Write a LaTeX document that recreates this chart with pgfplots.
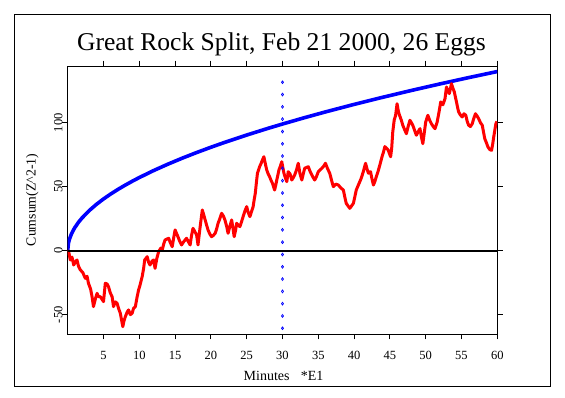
\documentclass[border=0pt]{standalone}
\usepackage{pgfplots}
\pgfplotsset{compat=1.18}
\usepackage{fontspec}
\setmainfont{Liberation Serif}
\begin{document}
\begin{tikzpicture}
\useasboundingbox (-67.7pt,-64pt) rectangle (497.3pt,334pt);
\begin{axis}[
  at={(0pt,0pt)}, anchor=south west,
  scale only axis, width=429.6pt, height=268pt,
  xmin=0, xmax=60, ymin=-65.1, ymax=144.3,
  xtick={5,10,...,60}, ytick={-50,0,50,100},
  xtick pos=both, ytick pos=both, xticklabel pos=lower, yticklabel pos=left,
  tick align=outside, major tick length=5.3pt,
  every tick/.style={black, line width=0.8pt},
  axis line style={line width=0.8pt},
  /pgf/number format/assume math mode=true,
  xticklabel style={font=\fontsize{12.5}{14}\selectfont, anchor=base, inner sep=0pt, yshift=-20pt},
  yticklabel style={font=\fontsize{12.5}{14}\selectfont, rotate=90, anchor=base, inner sep=0pt},
  title={Great Rock Split, Feb 21 2000, 26 Eggs},
  title style={at={(axis description cs:0.5,1)}, anchor=base, inner sep=0pt, yshift=9.8pt, xshift=-1pt, font=\fontsize{25.6}{30}\selectfont},
  xlabel={Minutes\hspace{0.8em}*E1},
  xlabel style={at={(axis description cs:0.5,0)}, anchor=base, inner sep=0pt, yshift=-47pt, xshift=1pt, font=\fontsize{14}{16}\selectfont},
  ylabel={Cumsum(Z\^{}2-1)},
  ylabel style={at={(axis description cs:0,0.5)}, anchor=base, inner sep=0pt, yshift=32pt, font=\fontsize{13.8}{16}\selectfont},
  clip=true,
]
% envelope
\addplot[blue, line width=3.6pt, line join=round] coordinates {
(0,0) (0.1,5.71) (0.25,9.04) (0.5,12.78) (0.75,15.65) (1,18.07) (1.5,22.13)
(2,25.55) (3,31.30) (4,36.14) (5,40.41) (6,44.26) (7,47.81) (8,51.11)
(9,54.21) (10,57.14) (12,62.60) (14,67.61) (16,72.28) (18,76.67) (20,80.81)
(22,84.76) (25,90.35) (28,95.62) (30,98.97) (33,103.80) (36,108.42)
(40,114.29) (44,119.86) (48,125.19) (52,130.30) (56,135.23) (60,139.97)
};
% event marker line
\addplot[blue, only marks, mark=diamond, mark size=1.4pt, mark options={line width=0.7pt}] coordinates {
(30,-60.6) (30,-51.0) (30,-41.4) (30,-31.8) (30,-22.2) (30,-12.6) (30,-3.0)
(30,6.6) (30,16.3) (30,25.9) (30,35.5) (30,45.1) (30,54.7) (30,64.3)
(30,73.9) (30,83.5) (30,93.1) (30,102.8) (30,112.4) (30,122.0) (30,131.6)
};
% cumulative deviation
\addplot[red, line width=3pt, line join=round] coordinates {
(0,0) (0.14,-0.8) (0.36,-7.3) (0.6,-5) (0.84,-11.2) (1.1,-8.5) (1.3,-7.3)
(1.5,-12) (1.76,-15) (2.1,-17) (2.46,-21.6) (2.7,-20) (2.9,-25.5) (3.2,-30)
(3.4,-35.9) (3.6,-43.7) (3.85,-38) (4.1,-33.3) (4.3,-36) (4.55,-35.9)
(4.8,-38) (5.0,-39.8) (5.25,-25.5) (5.5,-26) (5.7,-28.1) (5.95,-33)
(6.2,-35.9) (6.4,-43.7) (6.65,-40) (6.9,-41.1) (7.1,-45) (7.35,-48.9)
(7.55,-55) (7.7,-59.4) (7.85,-55) (8.05,-51.6) (8.3,-48) (8.5,-46.3)
(8.75,-50) (9.0,-48.9) (9.2,-45) (9.45,-43.7) (9.7,-36) (9.9,-30.7)
(10.1,-27) (10.4,-20.3) (10.6,-14) (10.75,-7.3) (11.1,-4.7) (11.3,-9)
(11.5,-11.2) (11.8,-8) (12.0,-7.3) (12.2,-13.8) (12.45,-6) (12.7,-0.8)
(13.0,2) (13.2,0.5) (13.4,5) (13.6,8.4) (14.1,9.7) (14.35,6) (14.6,3.1)
(14.8,10) (15.0,16.2) (15.4,10.9) (15.6,8) (15.9,4.5) (16.2,7) (16.6,9.7)
(16.85,7) (17.1,4.5) (17.3,12) (17.5,17.5) (17.75,15) (18.0,12.3)
(18.2,4.5) (18.5,18.8) (18.8,31.8) (19.0,28) (19.2,24) (19.4,20)
(19.6,16.2) (19.85,13) (20.1,10.9) (20.35,12) (20.6,13.6) (20.8,17)
(21.0,21.4) (21.25,25) (21.5,29.2) (21.75,27) (21.96,24) (22.2,19)
(22.4,13.6) (22.65,19) (22.9,24) (23.1,17) (23.25,10.9) (23.45,16)
(23.6,21.4) (23.8,20) (24.05,18.8) (24.3,23) (24.5,26.6) (24.75,31)
(25.0,34.4) (25.2,30) (25.45,26.6) (25.7,31) (25.9,34.4) (26.05,40)
(26.2,44.8) (26.35,53) (26.5,60.5) (26.65,63) (26.8,65.6) (27.0,68)
(27.2,70.9) (27.4,73.4) (27.6,68) (27.8,63) (28.0,60) (28.2,57.8)
(28.4,55) (28.6,52.6) (28.75,50) (28.9,47.4) (29.05,51) (29.2,55.2)
(29.35,59) (29.5,63) (29.7,66) (29.9,69.5) (30.05,65) (30.2,60.5)
(30.4,57) (30.6,53.9) (30.8,61.7) (31.05,60) (31.3,55.2) (31.5,57)
(31.7,59.1) (31.95,63) (32.2,68.3) (32.45,60) (32.7,55.2) (32.9,60)
(33.1,64.4) (33.6,65.6) (33.85,62) (34.1,59.1) (34.3,57) (34.5,55.2)
(34.75,58) (35.0,61.7) (35.5,64.4) (35.75,66) (36.0,68.3) (36.3,64)
(36.6,60.5) (36.85,55) (37.1,50) (37.45,52) (37.8,51.3) (38.15,49)
(38.5,47.4) (38.7,42) (38.9,37) (39.15,35) (39.4,33.1) (39.65,35)
(39.9,37) (40.1,42) (40.3,47.4) (40.65,52) (41.0,56.6) (41.3,62)
(41.6,68.3) (41.8,64) (42.0,60.5) (42.3,61.7) (42.5,56) (42.7,51.3)
(42.9,54) (43.1,57.8) (43.35,62) (43.6,67) (43.9,73.4) (44.1,77)
(44.3,81.3) (44.75,78.7) (45.1,73.4) (45.25,80) (45.4,92.7) (45.6,102)
(45.8,105.8) (46.0,114.8) (46.2,108.4) (46.4,105) (46.6,101.9) (46.8,98)
(47.0,95.3) (47.3,91.4) (47.55,97) (47.8,101.9) (48.0,100) (48.2,98)
(48.45,94) (48.7,90.2) (48.95,93) (49.2,95.3) (49.4,89) (49.6,83.6)
(49.8,92) (50.0,100.5) (50.3,105.8) (50.55,102) (50.8,99.2) (51.05,97)
(51.3,95.3) (51.6,100.5) (51.85,108) (52.1,116.2) (52.4,114) (52.7,118.8)
(52.9,127.9) (53.1,125) (53.3,122.7) (53.6,130.5) (53.8,127) (54.0,124)
(54.15,120) (54.3,116.2) (54.45,112) (54.6,108.4) (54.85,106) (55.1,104.5)
(55.35,107) (55.6,105.8) (55.8,101) (56.0,98) (56.25,97) (56.5,99.2)
(56.7,103) (56.95,107) (57.2,105) (57.4,103.1) (57.65,100) (57.9,98)
(58.1,92) (58.25,87.5) (58.5,84) (58.7,81) (58.95,79) (59.2,78.4)
(59.35,83) (59.5,88.8) (59.65,94) (59.8,99.2) (59.95,101)
};
% zero line
\addplot[black, line width=2pt] coordinates {(0,0) (60,0)};
\end{axis}
\draw[line width=0.8pt] (-53.4pt,-52pt) rectangle (482.6pt,320pt);
\end{tikzpicture}
\end{document}
